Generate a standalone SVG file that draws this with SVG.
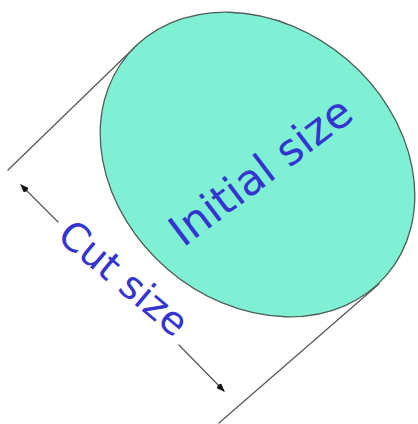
<svg xmlns="http://www.w3.org/2000/svg" width="418" height="424" viewBox="0 0 418 424">
<style>
.ln{stroke:#5a5a5a;stroke-width:1.3;fill:none;stroke-linecap:round}
.lbl{font-family:"DejaVu Sans",Verdana,sans-serif;fill:#3434cf;text-anchor:middle}
</style>
<defs>
<marker id="ah" viewBox="-10 -5 12 10" markerWidth="12" markerHeight="10" refX="0" refY="0" orient="auto" markerUnits="userSpaceOnUse">
<path d="M1,0 L-7,-3.2 Q-9.5,0 -7,3.2 Z" fill="#111"/>
</marker>
</defs>
<rect width="418" height="424" fill="#fff"/>
<g id="connectors">
<line class="ln" x1="8" y1="170" x2="136" y2="46"/>
<line class="ln" x1="219" y1="423" x2="379" y2="284"/>
<path class="ln" d="M58,222 L21,185" marker-end="url(#ah)"/>
<path class="ln" d="M179,345 L224,391" marker-end="url(#ah)"/>
</g>
<g id="initial">
<ellipse cx="257.5" cy="164.5" rx="170" ry="138" transform="rotate(40.5 257.5 164.5)" fill="#7ff0d4" stroke="#4d5f58" stroke-width="1.3"/>
<text class="lbl" font-size="43" transform="translate(269.5 183) rotate(-37)">Initial size</text>
</g>
<g id="cut">
<text class="lbl" font-size="39" transform="translate(115 288.5) rotate(40)">Cut size</text>
</g>
</svg>
